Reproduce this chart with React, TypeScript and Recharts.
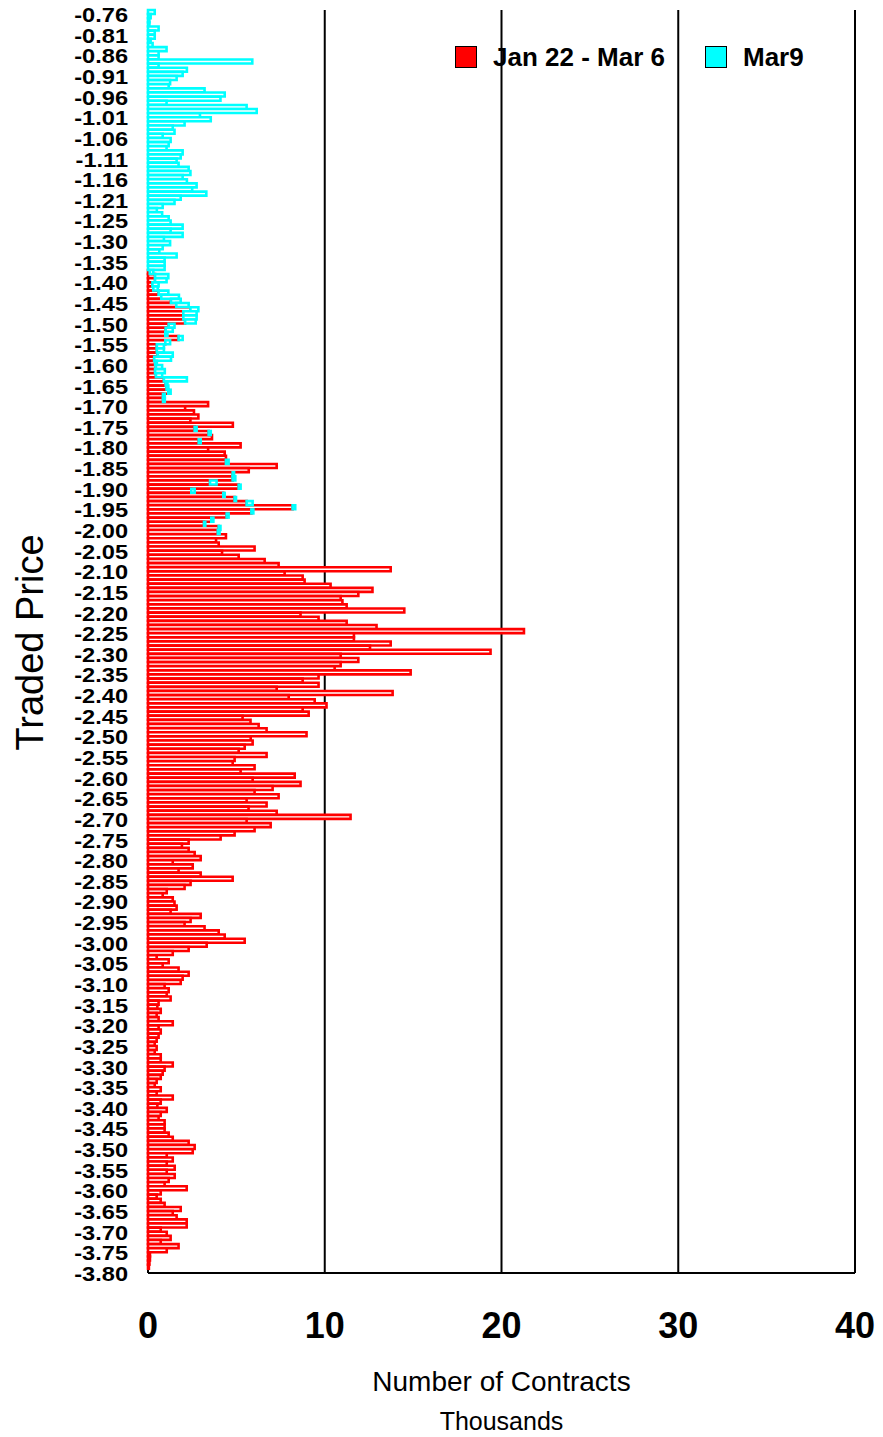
import React from 'react';
import { BarChart, Bar, XAxis, YAxis, CartesianGrid, Legend } from 'recharts';

// Traded price levels (top to bottom)
const prices: number[] = [
  -0.76, -0.77, -0.78, -0.79, -0.80, -0.81, -0.82, -0.83, -0.84, -0.85,
  -0.86, -0.87, -0.88, -0.89, -0.90, -0.91, -0.92, -0.93, -0.94, -0.95,
  -0.96, -0.97, -0.98, -0.99, -1.00, -1.01, -1.02, -1.03, -1.04, -1.05,
  -1.06, -1.07, -1.08, -1.09, -1.10, -1.11, -1.12, -1.13, -1.14, -1.15,
  -1.16, -1.17, -1.18, -1.19, -1.20, -1.21, -1.215, -1.22, -1.23, -1.24,
  -1.25, -1.26, -1.27, -1.28, -1.29, -1.30, -1.31, -1.32, -1.33, -1.34,
  -1.35, -1.36, -1.37, -1.38, -1.39, -1.40, -1.41, -1.42, -1.43, -1.44,
  -1.45, -1.46, -1.47, -1.48, -1.49, -1.50, -1.51, -1.52, -1.53, -1.54,
  -1.55, -1.56, -1.57, -1.58, -1.59, -1.60, -1.61, -1.62, -1.63, -1.64,
  -1.65, -1.66, -1.67, -1.68, -1.69, -1.70, -1.71, -1.72, -1.73, -1.74,
  -1.75, -1.76, -1.77, -1.78, -1.79, -1.80, -1.81, -1.82, -1.83, -1.84,
  -1.85, -1.86, -1.87, -1.88, -1.89, -1.90, -1.91, -1.92, -1.93, -1.94,
  -1.95, -1.96, -1.97, -1.98, -1.99, -2.00, -2.01, -2.02, -2.03, -2.04,
  -2.05, -2.06, -2.07, -2.08, -2.09, -2.10, -2.11, -2.12, -2.13, -2.14,
  -2.15, -2.16, -2.17, -2.18, -2.19, -2.20, -2.21, -2.22, -2.23, -2.24,
  -2.25, -2.26, -2.27, -2.28, -2.29, -2.30, -2.31, -2.32, -2.33, -2.34,
  -2.35, -2.36, -2.37, -2.38, -2.39, -2.40, -2.41, -2.42, -2.43, -2.44,
  -2.45, -2.46, -2.47, -2.48, -2.49, -2.50, -2.51, -2.52, -2.53, -2.54,
  -2.55, -2.56, -2.57, -2.58, -2.59, -2.60, -2.61, -2.62, -2.63, -2.64,
  -2.65, -2.66, -2.67, -2.68, -2.69, -2.70, -2.71, -2.72, -2.73, -2.74,
  -2.75, -2.76, -2.77, -2.78, -2.79, -2.80, -2.81, -2.82, -2.83, -2.84,
  -2.85, -2.86, -2.87, -2.88, -2.89, -2.90, -2.91, -2.92, -2.93, -2.94,
  -2.95, -2.96, -2.97, -2.98, -2.99, -3.00, -3.01, -3.02, -3.03, -3.04,
  -3.05, -3.06, -3.07, -3.08, -3.09, -3.10, -3.11, -3.12, -3.13, -3.14,
  -3.15, -3.16, -3.17, -3.18, -3.19, -3.20, -3.21, -3.22, -3.23, -3.24,
  -3.25, -3.26, -3.27, -3.28, -3.29, -3.30, -3.31, -3.32, -3.33, -3.34,
  -3.35, -3.36, -3.37, -3.38, -3.39, -3.40, -3.41, -3.42, -3.43, -3.44,
  -3.45, -3.46, -3.47, -3.48, -3.49, -3.50, -3.51, -3.52, -3.53, -3.54,
  -3.55, -3.56, -3.57, -3.58, -3.59, -3.60, -3.61, -3.62, -3.63, -3.64,
  -3.65, -3.66, -3.67, -3.68, -3.69, -3.70, -3.71, -3.72, -3.73, -3.74,
  -3.75, -3.76, -3.77, -3.78, -3.79, -3.80,
];

// Number of contracts (thousands), Jan 22 - Mar 6
const janToMar6: number[] = [
  0, 0, 0, 0, 0, 0, 0, 0, 0, 0,
  0, 0, 0, 0, 0, 0, 0, 0, 0, 0,
  0, 0, 0, 0, 0, 0, 0, 0, 0, 0,
  0, 0, 0, 0, 0, 0, 0, 0, 0, 0,
  0, 0, 0, 0, 0, 0, 0, 0, 0, 0,
  0, 0, 0, 0, 0, 0, 0, 0, 0, 0,
  0, 0, 0, 0.1, 0.4, 0.4, 0.25, 0.3, 0.6, 0.75,
  1.3, 1.6, 2.4, 2.0, 2.0, 2.1, 1.17, 1.0, 0.98, 1.73,
  0.98, 0.5, 0.5, 0.55, 0.35, 0.4, 0.45, 0.4, 0.45, 0.9,
  1.0, 1.05, 1.15, 0.85, 0.85, 3.4, 2.1, 2.6, 2.85, 2.4,
  4.8, 2.64, 3.43, 3.62, 2.87, 5.24, 3.4, 4.34, 4.41, 4.41,
  7.28, 5.7, 4.79, 4.79, 3.51, 5.13, 2.45, 4.26, 4.9, 5.58,
  8.18, 5.85, 4.45, 3.58, 3.17, 4.0, 3.95, 4.41, 3.85, 4.0,
  6.03, 4.19, 5.13, 6.6, 7.39, 13.73, 7.73, 8.75, 8.86, 10.33,
  12.7, 11.9, 10.9, 11.0, 11.24, 14.5, 8.63, 9.65, 11.24, 12.93,
  21.27, 11.65, 11.65, 13.73, 12.56, 19.38, 10.9, 11.9, 10.9, 10.56,
  14.86, 9.65, 8.75, 9.65, 7.28, 13.84, 7.96, 9.43, 10.1, 8.75,
  9.09, 5.35, 5.8, 6.26, 6.71, 8.97, 5.81, 5.92, 5.47, 5.13,
  6.71, 4.9, 4.79, 6.03, 5.24, 8.3, 5.92, 8.63, 7.05, 6.03,
  7.39, 5.58, 6.71, 5.69, 7.28, 11.46, 5.58, 6.94, 6.03, 4.9,
  4.11, 2.3, 1.92, 2.3, 2.64, 2.98, 1.4, 2.53, 1.73, 2.98,
  4.79, 2.41, 2.07, 1.06, 0.83, 1.4, 1.5, 1.62, 1.28, 2.98,
  2.41, 2.07, 3.2, 4.0, 4.34, 5.47, 3.32, 2.3, 1.4, 0.49,
  1.17, 0.83, 1.73, 2.3, 1.96, 1.85, 0.94, 1.17, 1.06, 1.28,
  0.6, 0.53, 0.72, 0.49, 0.6, 1.4, 0.6, 0.72, 0.6, 0.49,
  0.38, 0.49, 0.38, 0.72, 0.72, 1.4, 0.94, 0.83, 0.72, 0.49,
  0.38, 0.72, 0.49, 1.4, 0.72, 0.53, 1.06, 0.72, 0.6, 0.94,
  0.94, 0.94, 1.17, 1.4, 2.3, 2.64, 2.53, 1.06, 1.4, 1.06,
  1.51, 1.06, 1.51, 1.17, 0.94, 2.19, 0.72, 0.49, 0.72, 0.94,
  1.85, 1.4, 1.62, 2.19, 2.19, 0.72, 1.06, 1.28, 0.72, 1.73,
  1.06, 0.11, 0.11, 0.08, 0.05, 0,
];

// Number of contracts (thousands), Mar 9
const mar9: number[] = [
  0.38, 0.15, 0.08, 0.08, 0.6, 0.38, 0.38, 0.15, 0.26, 1.05,
  0.6, 0.6, 5.9, 0.6, 2.2, 1.96, 1.62, 1.25, 1.17, 3.2,
  4.34, 4.1, 1.05, 5.58, 6.15, 2.94, 3.55, 2.07, 1.4, 1.5,
  0.83, 1.28, 1.17, 1.05, 1.96, 1.85, 1.62, 1.73, 2.3, 2.4,
  1.96, 2.2, 2.75, 2.5, 3.3, 1.85, 1.5, 0.83, 0.5, 0.8,
  1.17, 1.28, 1.96, 1.28, 1.96, 0.9, 1.25, 0.83, 0.64, 1.62,
  0.94, 0.94, 0.94, 0.2, 0.75, 0.65, 0.35, 0.25, 0.55, 1.0,
  0.55, 0.7, 0.45, 0.75, 0.75, 0.6, 0.33, 0.4, 0.12, 0.23,
  0.27, 0.4, 0.4, 0.85, 0.95, 0.1, 0.35, 0.55, 0.35, 1.3,
  0.1, 0.1, 0.13, 0.1, 0.1, 0, 0, 0, 0, 0,
  0, 0.11, 0.12, 0, 0.11, 0, 0, 0, 0, 0.15,
  0, 0, 0.08, 0.15, 0.37, 0.11, 0.19, 0.08, 0.08, 0.34,
  0.15, 0.11, 0.11, 0.12, 0.07, 0.1, 0.1, 0, 0, 0,
  0, 0, 0, 0, 0, 0, 0, 0, 0, 0,
  0, 0, 0, 0, 0, 0, 0, 0, 0, 0,
  0, 0, 0, 0, 0, 0, 0, 0, 0, 0,
  0, 0, 0, 0, 0, 0, 0, 0, 0, 0,
  0, 0, 0, 0, 0, 0, 0, 0, 0, 0,
  0, 0, 0, 0, 0, 0, 0, 0, 0, 0,
  0, 0, 0, 0, 0, 0, 0, 0, 0, 0,
  0, 0, 0, 0, 0, 0, 0, 0, 0, 0,
  0, 0, 0, 0, 0, 0, 0, 0, 0, 0,
  0, 0, 0, 0, 0, 0, 0, 0, 0, 0,
  0, 0, 0, 0, 0, 0, 0, 0, 0, 0,
  0, 0, 0, 0, 0, 0, 0, 0, 0, 0,
  0, 0, 0, 0, 0, 0, 0, 0, 0, 0,
  0, 0, 0, 0, 0, 0, 0, 0, 0, 0,
  0, 0, 0, 0, 0, 0, 0, 0, 0, 0,
  0, 0, 0, 0, 0, 0, 0, 0, 0, 0,
  0, 0, 0, 0, 0, 0, 0, 0, 0, 0,
  0, 0, 0, 0, 0, 0,
];

const xTicks = [0, 10, 20, 30, 40];
const seriesNames = ['Jan 22 - Mar 6', 'Mar9'];
const seriesColors = ['#FF0000', '#00FFFF'];
const xTitle = 'Number of Contracts';
const xSubTitle = 'Thousands';
const yTitle = 'Traded Price';

const data = prices.map((p, i) => ({ price: p, jan: janToMar6[i], mar9: mar9[i] }));

const FONT = '"Liberation Sans", Arial, Helvetica, sans-serif';

const YTick = (props: any) => {
  const { x, y, payload } = props;
  return (
    <g transform={`translate(${x}, ${y + 10}) scale(1.18, 1)`}>
      <text x={0} y={0} textAnchor="end" fontFamily={FONT} fontWeight="bold" fontSize={20} fill="#000">
        {Number(payload.value).toFixed(2)}
      </text>
    </g>
  );
};

const XTick = (props: any) => {
  const { x, y, payload } = props;
  return (
    <text x={x} y={y} dy={65} textAnchor="middle" fontFamily={FONT} fontWeight="bold" fontSize={36} fill="#000">
      {payload.value}
    </text>
  );
};

const XTitle = (props: any) => {
  const vb = props.viewBox || { x: 0, y: 0, width: 0, height: 0 };
  const cx = vb.x + vb.width / 2;
  return (
    <g>
      <text x={cx} y={vb.y + 118} textAnchor="middle" fontFamily={FONT} fontSize={28} fill="#000">{xTitle}</text>
      <text x={cx} y={vb.y + 157} textAnchor="middle" fontFamily={FONT} fontSize={25} fill="#000">{xSubTitle}</text>
    </g>
  );
};

const YTitle = (props: any) => {
  const vb = props.viewBox || { x: 0, y: 0, width: 0, height: 0 };
  const tx = vb.x + 35;
  const ty = vb.y + vb.height / 2 + 1;
  return (
    <text x={tx} y={ty} transform={`rotate(-90, ${tx}, ${ty})`} textAnchor="middle" fontFamily={FONT} fontSize={38} fill="#000">
      {yTitle}
    </text>
  );
};

const LegendContent = () => (
  <div style={{ display: 'flex', alignItems: 'center', fontFamily: FONT, fontWeight: 'bold', fontSize: 26, lineHeight: '22px', color: '#000' }}>
    {seriesNames.map((n, i) => (
      <div key={n} style={{ display: 'flex', alignItems: 'center', marginRight: i === 0 ? 40 : 0 }}>
        <span style={{ display: 'inline-block', boxSizing: 'border-box', width: 22, height: 22, background: seriesColors[i], border: '1px solid #000', marginRight: 16 }} />
        <span>{n}</span>
      </div>
    ))}
  </div>
);

export default function App() {
  return (
    <div style={{ width: 875, height: 1437, marginTop: -8, background: '#fff' }}>
      <BarChart
        width={875}
        height={1437}
        data={data}
        layout="vertical"
        barCategoryGap={0}
        barGap={0}
        margin={{ top: 10, right: 28, bottom: 14, left: 0 }}
      >
        <CartesianGrid horizontal={false} stroke="#000" strokeWidth={2} />
        <XAxis
          xAxisId="top"
          orientation="top"
          type="number"
          domain={[0, 40]}
          ticks={xTicks}
          tick={false}
          tickLine={false}
          height={0}
          axisLine={{ stroke: '#000', strokeWidth: 2 }}
        />
        <XAxis
          type="number"
          domain={[0, 40]}
          ticks={xTicks}
          tick={<XTick />}
          tickLine={false}
          tickSize={0}
          tickMargin={0}
          height={150}
          axisLine={{ stroke: '#000', strokeWidth: 2 }}
          label={<XTitle />}
        />
        <YAxis
          type="category"
          dataKey="price"
          width={140}
          interval={4}
          axisLine={false}
          tickLine={false}
          tickSize={0}
          tickMargin={20}
          tick={<YTick />}
          label={<YTitle />}
        />
        <Legend
          content={<LegendContent />}
          layout="vertical"
          align="center"
          verticalAlign="middle"
          wrapperStyle={{ top: 46, left: 447, width: 420, height: 22 }}
        />
        <Bar dataKey="jan" name={seriesNames[0]} stackId="a" fill="#FFFFFF" stroke={seriesColors[0]} strokeWidth={2.6} isAnimationActive={false} />
        <Bar dataKey="mar9" name={seriesNames[1]} stackId="a" fill="#FFFFFF" stroke={seriesColors[1]} strokeWidth={2.6} isAnimationActive={false} />
      </BarChart>
    </div>
  );
}
